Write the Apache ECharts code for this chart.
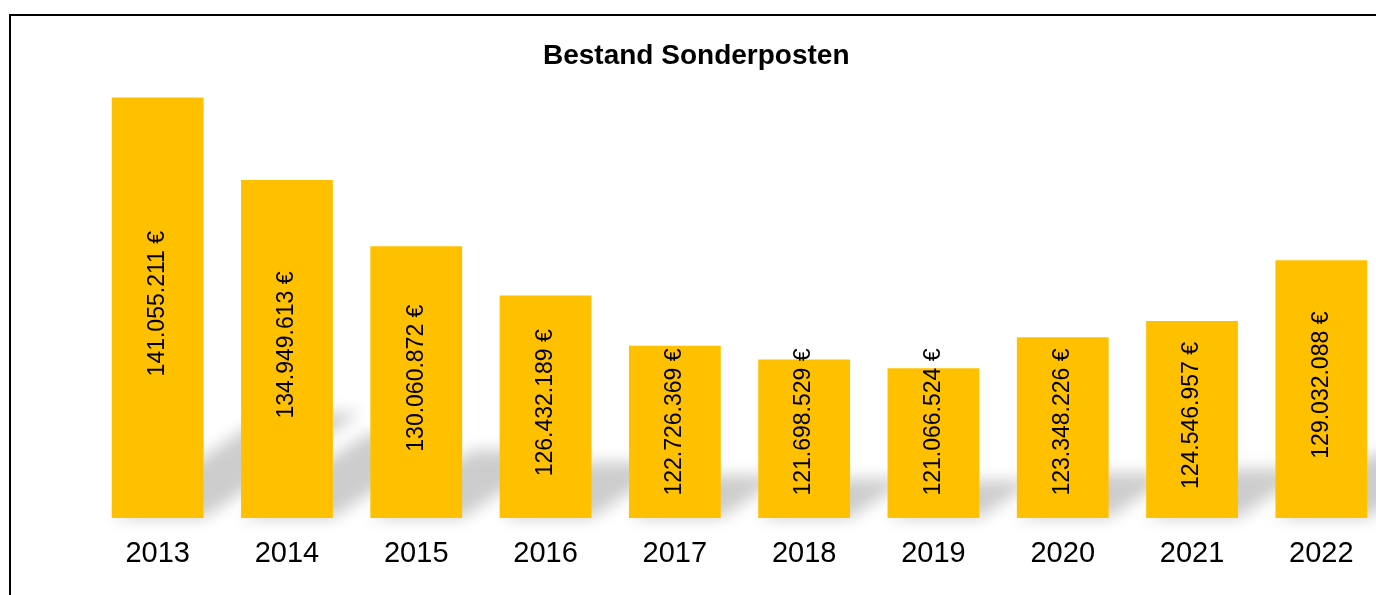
<!DOCTYPE html>
<html>
<head>
<meta charset="utf-8">
<script src="https://cdn.jsdelivr.net/npm/echarts@6/dist/echarts.min.js"></script>
<style>
  html, body { margin: 0; padding: 0; background: #fff; }
  #chart { width: 1376px; height: 595px; }
</style>
</head>
<body>
<div id="chart"></div>
<script>
const years = ['2013', '2014', '2015', '2016', '2017', '2018', '2019', '2020', '2021', '2022']
const bestand = [141055211, 134949613, 130060872, 126432189, 122726369, 121698529, 121066524, 123348226, 124546957, 129032088]

const yMin = 110000000
const yMax = 145000000
const barColor = '#FFC000'

function fmtEuro(v) {
  return String(v).replace(/\B(?=(\d{3})+(?!\d))/g, '.') + ' €'
}

const chart = echarts.init(document.getElementById('chart'))

function buildOption(offsets) {
  return {
    animation: false,
    title: {
      text: 'Bestand Sonderposten',
      left: 538,
      top: 37,
      textStyle: { fontFamily: 'Liberation Sans, Arial', fontWeight: 'bold', fontSize: 28, color: '#000' }
    },
    graphic: [{
      type: 'rect',
      shape: { x: 10, y: 15, width: 1400, height: 620 },
      style: { fill: 'none', stroke: '#000', lineWidth: 2 },
      silent: true
    }],
    grid: { left: 93, width: 1293, top: 44, bottom: 77, outerBoundsMode: 'none' },
    xAxis: {
      type: 'category',
      data: years,
      axisLine: { show: false },
      axisTick: { show: false },
      axisLabel: { fontFamily: 'Liberation Sans, Arial', fontSize: 29, color: '#000', margin: 21 }
    },
    yAxis: {
      type: 'value',
      min: yMin,
      max: yMax,
      show: false,
      splitLine: { show: false }
    },
    series: [{
      // perspective shadow behind the bars
      type: 'custom',
      z: 1,
      silent: true,
      data: bestand.map((v, i) => [i, v]),
      encode: { x: 0, y: 1 },
      renderItem(params, api) {
        const top = api.coord([api.value(0), api.value(1)])
        const base = api.coord([api.value(0), yMin])
        const w = api.size([1, 0])[0] * 0.71
        const h = base[1] - top[1]
        const dy = h * 0.25
        const dx = dy * 1.5
        const far = 3000
        const xl = base[0] - w / 2 - far
        const xr = base[0] + w / 2 - far
        return {
          type: 'polygon',
          shape: { points: [[xl, base[1]], [xr, base[1]], [xr + dx, base[1] - dy], [xl + dx, base[1] - dy]] },
          style: {
            fill: '#000',
            shadowColor: 'rgba(0,0,0,0.2)',
            shadowBlur: 16,
            shadowOffsetX: far,
            shadowOffsetY: 0
          }
        }
      }
    }, {
      type: 'bar',
      z: 2,
      barCategoryGap: '29%',
      itemStyle: { color: barColor },
      label: {
        show: true,
        position: 'inside',
        rotate: 90,
        fontFamily: 'Liberation Sans, Arial',
        fontSize: 23,
        color: '#000',
        formatter: p => fmtEuro(p.value)
      },
      // offset is in the rotated frame: +x points up the screen
      data: bestand.map((v, i) => ({ value: v, label: { offset: [offsets ? offsets[i] : 0, 0] } }))
    }]
  }
}

chart.setOption(buildOption(null))

// keep labels of short bars from dropping too close to the base
const labelLen = 142
const offsets = bestand.map(v => {
  const top = chart.convertToPixel({ yAxisIndex: 0 }, v)
  const base = chart.convertToPixel({ yAxisIndex: 0 }, yMin)
  const mid = (top + base) / 2
  const want = Math.min(mid - 4, base - 25 - labelLen / 2)
  return mid - want
})
chart.setOption(buildOption(offsets))
</script>
</body>
</html>
